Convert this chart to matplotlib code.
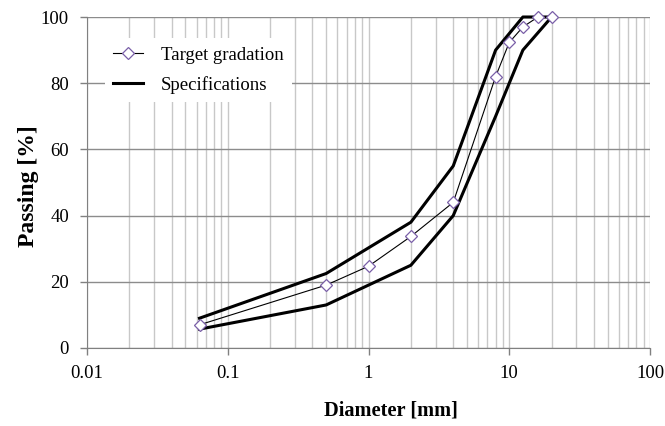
import matplotlib
matplotlib.use("Agg")
import matplotlib.pyplot as plt
from matplotlib.ticker import LogLocator, NullFormatter, FixedLocator, FixedFormatter

plt.rcParams['font.family'] = ['Liberation Serif', 'DejaVu Serif']

# Target gradation
target_d = [0.063, 0.5, 1, 2, 4, 8, 10, 12.5, 16, 20]
target_p = [7, 19, 24.7, 33.7, 44, 82, 92.3, 97, 100, 100]

# Specifications (upper and lower limits)
upper_d = [0.063, 0.5, 2, 4, 8, 12.5, 20]
upper_p = [9, 22.5, 38, 55, 90, 100, 100]
lower_d = [0.063, 0.5, 2, 4, 8, 12.5, 20]
lower_p = [5.7, 13, 25, 40, 70, 90, 100]

xticks = [0.01, 0.1, 1, 10, 100]
xtick_labels = ['0.01', '0.1', '1', '10', '100']
yticks = [0, 20, 40, 60, 80, 100]

W, H = 665, 426
L, R, T, B = 87, 650, 17, 348
fig = plt.figure(figsize=(W/100, H/100), dpi=100)
ax = fig.add_axes([L/W, (H-B)/H, (R-L)/W, (B-T)/H])
aw, ah = R-L, B-T

ax.plot(upper_d, upper_p, color='black', lw=2.2, label='Specifications', zorder=3, clip_on=False)
ax.plot(lower_d, lower_p, color='black', lw=2.2, zorder=3, clip_on=False)
ax.plot(target_d, target_p, color='black', lw=0.8, marker='D', markersize=6.5,
        markerfacecolor='white', markeredgecolor='#7a5fa8', markeredgewidth=0.9,
        label='Target gradation', zorder=4, clip_on=False)

ax.set_xscale('log')
ax.set_xlim(0.01, 100)
ax.set_ylim(0, 100)
ax.xaxis.set_major_locator(FixedLocator(xticks))
ax.xaxis.set_major_formatter(FixedFormatter(xtick_labels))
ax.xaxis.set_minor_locator(LogLocator(base=10, subs=range(2, 10)))
ax.xaxis.set_minor_formatter(NullFormatter())
ax.set_yticks(yticks)

ax.grid(True, axis='x', which='both', color='#c8c8c8', lw=1.0, zorder=0)
ax.grid(True, axis='y', which='major', color='#8c8c8c', lw=1.0, zorder=0)
ax.tick_params(axis='both', which='major', direction='out', length=5, color='#808080',
               labelsize=13.5, width=1.0)
ax.tick_params(axis='x', which='minor', length=0)
ax.tick_params(axis='x', pad=7)
ax.tick_params(axis='y', pad=8)
for s in ['top', 'right']:
    ax.spines[s].set_visible(False)
for s in ['left', 'bottom']:
    ax.spines[s].set_color('#808080')
ax.set_axisbelow(True)

ax.set_xlabel('Diameter [mm]', fontsize=14.7, fontweight='bold')
ax.xaxis.set_label_coords((391-L)/aw, (B-401)/ah)
ax.set_ylabel('Passing [%]', fontsize=17, fontweight='bold')
ax.yaxis.set_label_coords((39-L)/aw, (B-186.5)/ah)

handles, labels = ax.get_legend_handles_labels()
order = [1, 0]
leg = ax.legend([handles[i] for i in order], [labels[i] for i in order],
                loc='upper left', bbox_to_anchor=((105-L)/aw, (B-38)/ah), frameon=True,
                fontsize=13.5, handlelength=1.6, handletextpad=0.95, borderpad=0.45,
                labelspacing=0.65, borderaxespad=0,
                fancybox=False, edgecolor='white', framealpha=1.0)
leg.get_frame().set_linewidth(0)

fig.savefig('out.png', dpi=100)
